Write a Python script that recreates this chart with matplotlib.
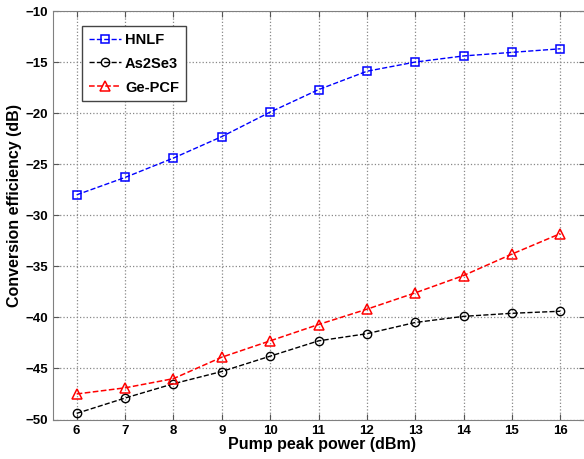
import numpy as np
import matplotlib.pyplot as plt

plt.rcParams['font.family'] = ['Liberation Sans', 'DejaVu Sans']
plt.rcParams['font.weight'] = 'bold'

# data
power = [6, 7, 8, 9, 10, 11, 12, 13, 14, 15, 16]
hnlf = [-28.0, -26.3, -24.4, -22.3, -19.9, -17.7, -15.9, -15.0, -14.4, -14.05, -13.7]
as2se3 = [-49.4, -47.9, -46.5, -45.3, -43.8, -42.3, -41.6, -40.5, -39.9, -39.6, -39.4]
ge_pcf = [-47.5, -46.9, -46.0, -43.9, -42.3, -40.7, -39.2, -37.6, -35.9, -33.8, -31.8]

fig = plt.figure(figsize=(5.84, 4.59), dpi=100)
ax = fig.add_axes([52.5 / 584, 1 - 419.5 / 459, 532 / 584, 408.5 / 459])

ax.plot(power, hnlf, '--s', color='#0000ff', mfc='none', ms=6, mew=1.1, lw=1.0, label='HNLF')
ax.plot(power, as2se3, '--o', color='black', mfc='none', ms=6, mew=1.0, lw=1.0, label='As2Se3')
ax.plot(power, ge_pcf, '--^', color='#ff0000', mfc='none', ms=7, mew=1.1, lw=1.1, label='Ge-PCF')

ax.set_xlim(5.5, 16.5)
ax.set_ylim(-50, -10)
ax.set_xticks(power)
ax.set_yticks(np.arange(-50, -9, 5))
ax.grid(True, linestyle=':', color='#888888', lw=0.9)
ax.tick_params(direction='in', top=True, right=True, labelsize=9.5, length=4,
               color='#555555', pad=3)
ax.tick_params(axis='x', pad=4)
for s in ax.spines.values():
    s.set_color('#808080')

ax.set_xlabel('Pump peak power (dBm)', fontsize=11.5, fontweight='bold')
ax.set_ylabel('Conversion efficiency (dB)', fontsize=11.5, fontweight='bold')
ax.xaxis.set_label_coords(0.5075, -0.042)
ax.yaxis.set_label_coords(-0.057, 0.525)

leg = ax.legend(loc='upper left', bbox_to_anchor=(0.0555, 0.963), borderaxespad=0,
                fontsize=10.5, fancybox=False, edgecolor='#444444', framealpha=1,
                handlelength=2.2, borderpad=0.45, labelspacing=0.68, handletextpad=0.3)
leg.get_frame().set_linewidth(1.0)

plt.savefig('out.png', dpi=100)
plt.close()
